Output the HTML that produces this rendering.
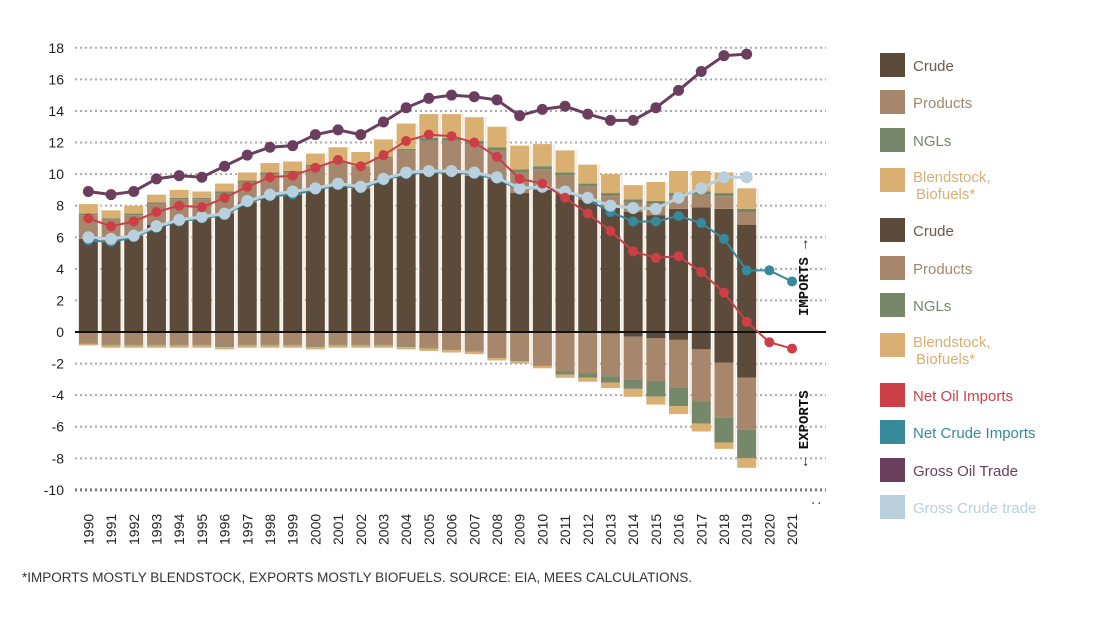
<!DOCTYPE html>
<html><head><meta charset="utf-8">
<style>
body{margin:0;background:#fff;width:1096px;height:627px;overflow:hidden;font-family:"Liberation Sans",sans-serif;}
svg{position:absolute;left:0;top:0;}
.foot{position:absolute;left:22px;top:570px;font-size:13.5px;color:#333;}
</style></head><body>
<svg id="chart" width="1096" height="627"></svg>
<div class="foot">*IMPORTS MOSTLY BLENDSTOCK, EXPORTS MOSTLY BIOFUELS. SOURCE: EIA, MEES CALCULATIONS.</div>
<script>
const years=[1990,1991,1992,1993,1994,1995,1996,1997,1998,1999,2000,2001,2002,2003,2004,2005,2006,2007,2008,2009,2010,2011,2012,2013,2014,2015,2016,2017,2018,2019,2020,2021];
const impCrude=[5.9,5.8,6.1,6.8,7.1,7.2,7.5,8.2,8.7,8.7,9.1,9.3,9.1,9.7,10.1,10.1,10.1,9.9,9.7,8.8,9.0,8.8,8.4,7.9,7.6,7.4,7.8,7.9,7.8,6.8];
const impProd=[1.5,1.3,1.3,1.3,1.3,1.2,1.3,1.3,1.3,1.4,1.4,1.4,1.3,1.3,1.4,2.0,2.0,2.0,1.8,1.3,1.3,1.1,0.8,0.7,0.6,0.7,0.8,0.8,0.8,0.8];
const impNgl=[0.1,0.1,0.1,0.1,0.1,0.1,0.1,0.1,0.1,0.1,0.1,0.1,0.1,0.1,0.1,0.2,0.2,0.2,0.2,0.2,0.2,0.2,0.2,0.2,0.2,0.2,0.2,0.2,0.2,0.2];
const impBlend=[0.6,0.5,0.5,0.5,0.5,0.4,0.5,0.5,0.6,0.6,0.7,0.9,0.9,1.1,1.6,1.5,1.5,1.5,1.3,1.5,1.4,1.4,1.2,1.2,0.9,1.2,1.4,1.3,1.3,1.3];
const expCrude=[0,0,0,0,0,0,0,0,0,0,0,0,0,0,0,0,0,0,0,0,0,0,0,0.1,0.3,0.4,0.5,1.1,1.95,2.9];
const expProd=[0.7,0.8,0.8,0.8,0.8,0.8,0.9,0.8,0.8,0.8,0.9,0.8,0.8,0.8,0.9,1.0,1.1,1.2,1.6,1.8,2.1,2.5,2.6,2.7,2.7,2.7,3.0,3.3,3.45,3.3];
const expNgl=[0.05,0.05,0.05,0.05,0.05,0.05,0.05,0.05,0.05,0.05,0.05,0.05,0.05,0.05,0.05,0.05,0.05,0.05,0.05,0.05,0.05,0.2,0.3,0.4,0.6,1.0,1.2,1.4,1.6,1.8];
const expBlend=[0.1,0.15,0.15,0.15,0.15,0.15,0.15,0.15,0.15,0.15,0.15,0.15,0.15,0.15,0.15,0.15,0.15,0.15,0.15,0.15,0.15,0.2,0.25,0.35,0.5,0.5,0.5,0.5,0.4,0.6];
const grossOil=[8.9,8.7,8.9,9.7,9.9,9.8,10.5,11.2,11.7,11.8,12.5,12.8,12.5,13.3,14.2,14.8,15.0,14.9,14.7,13.7,14.1,14.3,13.8,13.4,13.4,14.2,15.3,16.5,17.5,17.6];
const netOil=[7.2,6.7,7.0,7.6,8.0,7.9,8.5,9.2,9.8,9.9,10.4,10.9,10.5,11.2,12.1,12.5,12.4,12.0,11.1,9.7,9.4,8.5,7.5,6.4,5.1,4.7,4.8,3.8,2.5,0.65,-0.65,-1.05];
const netCrude=[5.8,5.7,6.0,6.6,7.0,7.2,7.4,8.2,8.6,8.7,9.0,9.3,9.1,9.6,10.0,10.1,10.1,10.0,9.7,9.0,9.2,8.9,8.4,7.6,7.0,7.0,7.35,6.9,5.9,3.9,3.9,3.2];
const grossCrude=[6.0,5.9,6.1,6.7,7.1,7.3,7.5,8.3,8.7,8.9,9.1,9.4,9.2,9.7,10.1,10.2,10.2,10.1,9.8,9.1,9.2,8.9,8.5,8.0,7.85,7.8,8.5,9.1,9.8,9.8];
const yTicks=[18,16,14,12,10,8,6,4,2,0,-2,-4,-6,-8,-10];

const NS="http://www.w3.org/2000/svg";
const svg=document.getElementById('chart');
const X0=77,SLOT=22.7,Y0=332,UNIT=15.79;
const xc=i=>X0+SLOT*(i+0.5);
const yv=v=>Y0-v*UNIT;
const C={crude:'#5c4a3b',prod:'#a6876b',ngl:'#75886a',blend:'#d9af72',red:'#cc3f46',teal:'#37899c',purple:'#6b3e5e',light:'#b9d0de'};
function mk(tag,attrs,parent){const e=document.createElementNS(NS,tag);for(const k in attrs)e.setAttribute(k,attrs[k]);(parent||svg).appendChild(e);return e;}

// grid
yTicks.forEach(t=>{
  const g=mk('line',{x1:75,x2:826,y1:yv(t),y2:yv(t),stroke:t===-10?'#777':'#aaa','stroke-width':t===-10?3:2,'stroke-dasharray':'2,3'});
  
  
  const l=mk('text',{x:64,y:yv(t)+5,'text-anchor':'end','font-size':14,fill:'#222'});
  l.textContent=t;
  
  
});
// bars
const BW=19;
function seg(i,from,to,col,name){
  const r=mk('rect',{x:xc(i)-BW/2,y:Math.min(yv(from),yv(to)),width:BW,height:Math.abs(yv(from)-yv(to)),fill:col});
  
  
}
impCrude.forEach((v,i)=>{
  let a=0;
  [[impCrude,C.crude,'import-crude'],[impProd,C.prod,'import-products'],[impNgl,C.ngl,'import-ngls'],[impBlend,C.blend,'import-blendstock']].forEach(([arr,c,n])=>{seg(i,a,a+arr[i],c,n);a+=arr[i];});
  let b=0;
  [[expCrude,C.crude,'export-crude'],[expProd,C.prod,'export-products'],[expNgl,C.ngl,'export-ngls'],[expBlend,C.blend,'export-biofuels']].forEach(([arr,c,n])=>{seg(i,b,b-arr[i],c,n);b-=arr[i];});
  const sep=mk('line',{x1:xc(i)+BW/2+1.8,x2:xc(i)+BW/2+1.8,y1:yv(a),y2:yv(b),stroke:'#f3ece0','stroke-width':2});
  
  
});
// zero line
const z=mk('line',{x1:75,x2:826,y1:Y0,y2:Y0,stroke:'#111','stroke-width':2});


// lines
function series(arr,col,name,r,w){
  const pts=arr.map((v,i)=>xc(i)+','+yv(v)).join(' ');
  const p=mk('polyline',{points:pts,fill:'none',stroke:col,'stroke-width':w});
  
  
  arr.forEach((v,i)=>{
    const c=mk('circle',{cx:xc(i),cy:yv(v),r:r,fill:col});
    
    
  });
}
series(netCrude,C.teal,'net-crude-imports',5,2);
series(grossCrude,C.light,'gross-crude-trade',6,3);
series(netOil,C.red,'net-oil-imports',5,2);
series(grossOil,C.purple,'gross-oil-trade',5.5,3);
// x labels
years.concat([':']).forEach((y,i)=>{
  const t=mk('text',{transform:`translate(${xc(i)+5},${y===':'?505:545}) rotate(-90)`,'font-size':14,fill:'#222'});
  t.textContent=y;
  
  
});
// imports/exports
const im=mk('text',{transform:'translate(808,316) rotate(-90)','font-size':14,'font-weight':'bold','font-family':'Liberation Mono, monospace',fill:'#111'});
im.textContent='IMPORTS →';


const ex=mk('text',{transform:'translate(808,466) rotate(-90)','font-size':14,'font-weight':'bold','font-family':'Liberation Mono, monospace',fill:'#111'});
ex.textContent='← EXPORTS';


// legend
const leg=[['Crude',C.crude,'#6b5a4b',65],['Products',C.prod,C.prod,102],['NGLs',C.ngl,C.ngl,140],['Blendstock,|Biofuels*',C.blend,C.blend,180],['Crude',C.crude,'#6b5a4b',230],['Products',C.prod,C.prod,268],['NGLs',C.ngl,C.ngl,305],['Blendstock,|Biofuels*',C.blend,C.blend,345],['Net Oil Imports',C.red,C.red,395],['Net Crude Imports',C.teal,C.teal,432],['Gross Oil Trade',C.purple,C.purple,470],['Gross Crude trade',C.light,C.light,507]];
leg.forEach(([lab,c,tc,y])=>{
  const r=mk('rect',{x:880,y:y-12,width:25,height:24,fill:c});
  
  
  const parts=lab.split('|');
  parts.forEach((p,k)=>{
    const t=mk('text',{x:k?916:913,y:y+6+k*17-(parts.length>1?4:0),'font-size':15,fill:tc});
    t.textContent=p;
    
    
  });
});
</script>
</body></html>
